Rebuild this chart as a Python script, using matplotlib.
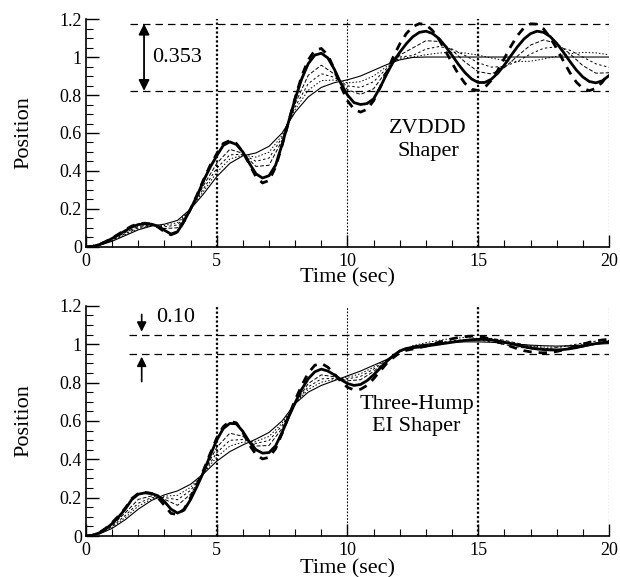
import numpy as np
import matplotlib
matplotlib.use("Agg")
import matplotlib.pyplot as plt
from matplotlib.ticker import MultipleLocator

plt.rcParams['font.family'] = ['Liberation Serif', 'DejaVu Serif']

# time grids (sec)
t_fine = np.arange(0, 20.001, 0.25)
t_coarse = np.arange(0, 20.001, 0.5)

# ---- ZVDDD shaper (top) ----
zv_solid = [0.000, 0.003, 0.012, 0.027, 0.045, 0.065, 0.085, 0.105, 0.118, 0.122, 0.120, 0.110, 0.088, 0.068, 0.080, 0.135,
            0.200, 0.270, 0.350, 0.420, 0.480, 0.535, 0.553, 0.540, 0.500, 0.440, 0.385, 0.363, 0.375, 0.430, 0.540, 0.660,
            0.780, 0.885, 0.965, 1.010, 1.020, 0.995, 0.935, 0.860, 0.800, 0.760, 0.750, 0.755, 0.780, 0.840, 0.910, 0.975,
            1.025, 1.070, 1.107, 1.130, 1.136, 1.124, 1.097, 1.056, 1.009, 0.960, 0.917, 0.884, 0.866, 0.866, 0.883, 0.915,
            0.958, 1.007, 1.054, 1.095, 1.123, 1.136, 1.130, 1.108, 1.072, 1.027, 0.978, 0.932, 0.895, 0.871, 0.864, 0.875,
            0.902]
zv_dash = [0.000, 0.003, 0.012, 0.028, 0.047, 0.068, 0.090, 0.110, 0.122, 0.125, 0.120, 0.105, 0.080, 0.064, 0.078, 0.135,
           0.200, 0.275, 0.355, 0.430, 0.490, 0.545, 0.560, 0.545, 0.500, 0.435, 0.370, 0.337, 0.350, 0.420, 0.535, 0.660,
           0.785, 0.900, 0.985, 1.035, 1.045, 1.010, 0.935, 0.845, 0.770, 0.725, 0.710, 0.725, 0.770, 0.840, 0.920, 1.000,
           1.069, 1.123, 1.160, 1.176, 1.170, 1.140, 1.092, 1.032, 0.968, 0.908, 0.860, 0.830, 0.824, 0.840, 0.877, 0.931,
           0.993, 1.057, 1.113, 1.154, 1.175, 1.173, 1.148, 1.103, 1.045, 0.981, 0.919, 0.868, 0.835, 0.823, 0.835, 0.868,
           0.919]
zv_nominal = [0, 0.008, 0.03, 0.06, 0.09, 0.11, 0.12, 0.14, 0.2, 0.28, 0.37, 0.44, 0.48, 0.495, 0.53, 0.6, 0.71, 0.79,
              0.84, 0.865, 0.88, 0.9, 0.93, 0.96, 0.985, 0.998,
              1.0, 1.0, 1.0, 1.0, 1.0, 1.0, 1.0, 1.0, 1.0, 1.0, 1.0, 1.0, 1.0, 1.0, 1.0]
zv_mid1 = [0, 0.011, 0.04, 0.076, 0.108, 0.117, 0.097, 0.101, 0.2, 0.325, 0.44, 0.514, 0.493, 0.424, 0.43, 0.561, 0.755,
           0.904, 0.957, 0.91, 0.828, 0.803, 0.833, 0.928, 1.01,
           1.048, 1.086, 1.082, 1.036, 0.973, 0.923, 0.911, 0.944, 1.005, 1.063, 1.09, 1.072, 1.018, 0.955, 0.915, 0.917]
zv_mid2 = [0, 0.01, 0.036, 0.07, 0.101, 0.114, 0.106, 0.116, 0.2, 0.308, 0.414, 0.485, 0.488, 0.451, 0.468, 0.576, 0.738,
           0.86, 0.912, 0.893, 0.848, 0.84, 0.87, 0.94, 1.0,
           1.008, 1.042, 1.055, 1.042, 1.008, 0.97, 0.947, 0.95, 0.977, 1.016, 1.046, 1.054, 1.036, 1.0, 0.964, 0.946]
zv_mid3 = [0, 0.009, 0.033, 0.065, 0.096, 0.112, 0.113, 0.128, 0.2, 0.294, 0.392, 0.463, 0.484, 0.473, 0.499, 0.588, 0.724,
           0.825, 0.876, 0.879, 0.864, 0.87, 0.9, 0.95, 0.993,
           1.0, 1.012, 1.021, 1.025, 1.021, 1.01, 0.995, 0.982, 0.976, 0.978, 0.99, 1.004, 1.017, 1.024, 1.022, 1.012]

# ---- Three-Hump EI shaper (bottom) ----
ei_solid = [0.000, 0.004, 0.016, 0.036, 0.065, 0.100, 0.140, 0.190, 0.218, 0.225, 0.222, 0.210, 0.180, 0.140, 0.120, 0.135,
            0.190, 0.260, 0.335, 0.420, 0.500, 0.560, 0.587, 0.585, 0.545, 0.490, 0.450, 0.432, 0.435, 0.470, 0.540, 0.620,
            0.695, 0.765, 0.820, 0.856, 0.870, 0.860, 0.840, 0.815, 0.795, 0.785, 0.790, 0.810, 0.840, 0.875, 0.910, 0.940,
            0.965, 0.978, 0.982, 0.985, 0.990, 0.995, 1.000, 1.005, 1.010, 1.015, 1.020, 1.023, 1.025, 1.025, 1.022, 1.017,
            1.010, 1.003, 0.995, 0.987, 0.980, 0.975, 0.972, 0.970, 0.970, 0.972, 0.976, 0.982, 0.990, 0.997, 1.003, 1.008,
            1.012]
ei_dash = [0.000, 0.004, 0.017, 0.040, 0.070, 0.105, 0.145, 0.195, 0.222, 0.228, 0.222, 0.200, 0.160, 0.118, 0.112, 0.140,
           0.200, 0.270, 0.345, 0.430, 0.510, 0.570, 0.598, 0.590, 0.540, 0.475, 0.425, 0.402, 0.410, 0.455, 0.535, 0.625,
           0.710, 0.785, 0.850, 0.890, 0.900, 0.880, 0.845, 0.805, 0.775, 0.762, 0.765, 0.785, 0.820, 0.860, 0.900, 0.930,
           0.955, 0.968, 0.975, 0.982, 0.990, 1.000, 1.010, 1.020, 1.028, 1.035, 1.040, 1.042, 1.040, 1.035, 1.025, 1.012,
           1.000, 0.988, 0.976, 0.966, 0.960, 0.956, 0.955, 0.957, 0.962, 0.970, 0.980, 0.990, 1.000, 1.010, 1.017, 1.022,
           1.025]
ei_nominal = [0, 0.01, 0.04, 0.085, 0.14, 0.185, 0.215, 0.235, 0.27, 0.325, 0.39, 0.44, 0.475, 0.505, 0.54, 0.6, 0.69,
              0.75, 0.785, 0.81, 0.835, 0.86, 0.89, 0.92, 0.96,
              0.99, 1.0, 1.005, 1.01, 1.012, 1.012, 1.01, 1.005, 1.0, 0.995, 0.992, 0.99, 0.992, 0.995, 1.0, 1.003]
ei_mid1 = [0, 0.014, 0.056, 0.121, 0.191, 0.209, 0.192, 0.16, 0.218, 0.331, 0.462, 0.536, 0.52, 0.469, 0.472, 0.561,
           0.693, 0.795, 0.84, 0.83, 0.809, 0.815, 0.858, 0.913, 0.963,
           0.985, 0.993, 1.0, 1.012, 1.02, 1.03, 1.03, 1.02, 1.005, 0.99, 0.978, 0.972, 0.975, 0.985, 1.0, 1.015]
ei_mid2 = [0, 0.012, 0.05, 0.107, 0.171, 0.2, 0.201, 0.189, 0.238, 0.329, 0.434, 0.499, 0.503, 0.483, 0.498, 0.576,
           0.692, 0.778, 0.819, 0.822, 0.819, 0.832, 0.87, 0.916, 0.962,
           0.988, 0.998, 1.008, 1.018, 1.024, 1.022, 1.012, 0.998, 0.985, 0.976, 0.975, 0.982, 0.994, 1.006, 1.016, 1.02]
ei_mid3 = [0, 0.011, 0.045, 0.096, 0.156, 0.192, 0.208, 0.212, 0.254, 0.327, 0.412, 0.469, 0.489, 0.494, 0.519, 0.588,
           0.691, 0.764, 0.802, 0.816, 0.827, 0.846, 0.88, 0.918, 0.961,
           0.992, 1.008, 1.02, 1.03, 1.035, 1.03, 1.02, 1.01, 1.0, 0.99, 0.985, 0.985, 0.99, 0.998, 1.005, 1.01]

# bounds of the residual vibration band
zv_band = [1.175, 0.822]
zv_band_label = "0.353"
ei_band = [1.05, 0.95]
ei_band_label = "0.10"


def style_axes(ax):
    ax.set_xlim(0, 20)
    ax.set_ylim(0, 1.2)
    ax.spines['top'].set_visible(False)
    ax.spines['right'].set_visible(False)
    for s in ['left', 'bottom']:
        ax.spines[s].set_linewidth(1.2)
    ax.xaxis.set_major_locator(MultipleLocator(5))
    ax.xaxis.set_minor_locator(MultipleLocator(1))
    ax.yaxis.set_minor_locator(MultipleLocator(0.05))
    ax.set_yticks([0, 0.2, 0.4, 0.6, 0.8, 1.0, 1.2])
    ax.set_yticklabels(['0', '0.2', '0.4', '0.6', '0.8', '1', '1.2'])
    ax.tick_params(which='major', direction='in', length=9, width=1, labelsize=13)
    ax.tick_params(which='minor', direction='in', length=5, width=0.8)
    ax.tick_params(axis='x', which='major', pad=4)
    ax.tick_params(axis='y', which='major', pad=3)
    for xv in [5, 10, 15, 20]:
        heavy = xv in (5, 15)
        ax.axvline(xv, color='black', linestyle=(0, (1, 1)) if heavy else (0, (1.5, 1.5)),
                   lw=1.6 if heavy else 0.8, zorder=1)
    ax.set_xlabel("Time (sec)", fontsize=16)
    ax.set_ylabel("Position", fontsize=16)
    ax.yaxis.set_label_coords(-0.1, 0.5)


def draw_curves(ax, solid, dash, nominal, mids):
    ax.plot(t_coarse, nominal, color='black', lw=0.8, zorder=3)
    styles = [(0, (4, 2)), (0, (2.5, 2.5)), (0, (1.5, 2))]
    for m, ls in zip(mids, styles):
        ax.plot(t_coarse, m, color='black', lw=0.7, linestyle=ls, zorder=3)
    ax.plot(t_fine, solid, color='black', lw=2.0, zorder=4)
    ax.plot(t_fine, dash, color='black', lw=2.0, linestyle=(0, (3, 2.5)), zorder=4)


fig = plt.figure(figsize=(6.2, 5.77), dpi=100)
ax1 = fig.add_axes([0.1387, 0.572, 0.8435, 0.395])
ax2 = fig.add_axes([0.1387, 0.071, 0.8435, 0.399])

# top panel
style_axes(ax1)
draw_curves(ax1, zv_solid, zv_dash, zv_nominal, [zv_mid1, zv_mid2, zv_mid3])
for yv in zv_band:
    ax1.plot([1.68, 20], [yv, yv], color='black', lw=0.9, linestyle=(0, (6, 4)), zorder=2)
ax1.annotate('', xy=(2.22, zv_band[0]), xytext=(2.22, zv_band[1]),
             arrowprops=dict(arrowstyle='<|-|>', color='black', lw=1.3, mutation_scale=16, shrinkA=0, shrinkB=0))
ax1.text(2.52, 0.995, zv_band_label, fontsize=16, ha='left', va='center')
ax1.text(13.08, 0.625, "ZVDDD", fontsize=16, ha='center', va='center')
ax1.text(13.08, 0.50, "Shaper", fontsize=16, ha='center', va='center')
ax1.xaxis.set_label_coords(0.5, -0.095)

# bottom panel
style_axes(ax2)
draw_curves(ax2, ei_solid, ei_dash, ei_nominal, [ei_mid1, ei_mid2, ei_mid3])
for yv in ei_band:
    ax2.plot([1.66, 20], [yv, yv], color='black', lw=0.9, linestyle=(0, (6, 4)), zorder=2)
ax2.annotate('', xy=(2.13, 1.065), xytext=(2.13, 1.155),
             arrowprops=dict(arrowstyle='-|>', color='black', lw=1.2, mutation_scale=14, shrinkA=0, shrinkB=0))
ax2.annotate('', xy=(2.13, 0.935), xytext=(2.13, 0.805),
             arrowprops=dict(arrowstyle='-|>', color='black', lw=1.2, mutation_scale=14, shrinkA=0, shrinkB=0))
ax2.text(2.7, 1.138, ei_band_label, fontsize=16, ha='left', va='center')
ax2.text(12.64, 0.684, "Three-Hump", fontsize=16, ha='center', va='center')
ax2.text(12.64, 0.57, "EI Shaper", fontsize=16, ha='center', va='center')
ax2.xaxis.set_label_coords(0.5, -0.1)

fig.savefig("out.png", dpi=100)
